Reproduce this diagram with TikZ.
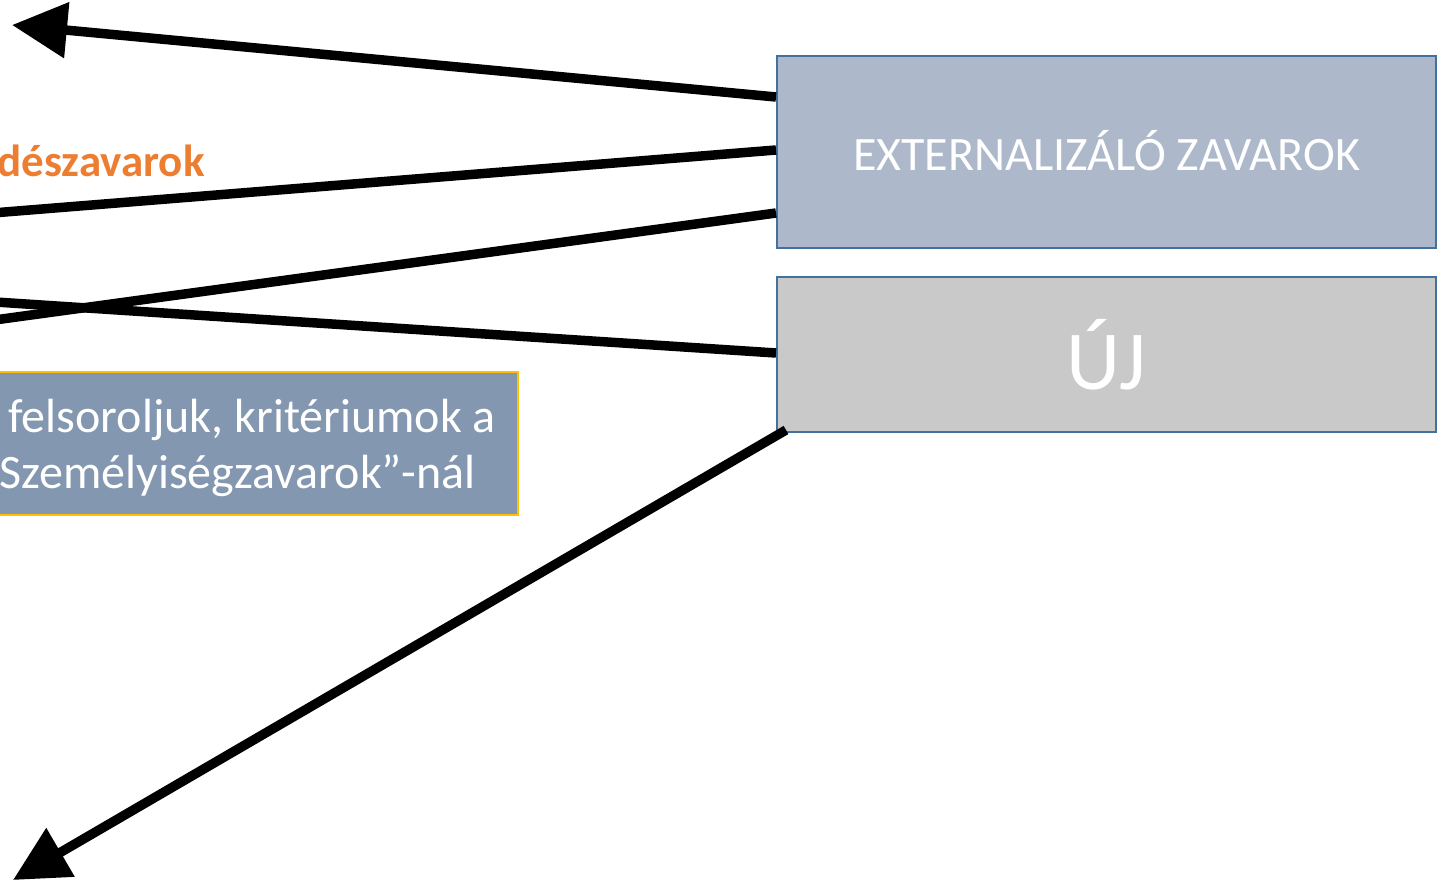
\documentclass[tikz,border=0pt]{standalone}
\usepackage{fontspec}
\setmainfont{Carlito}
\usetikzlibrary{arrows.meta,calc}
\definecolor{boxblue}{HTML}{ADB9CA}
\definecolor{boxgray}{HTML}{C9C9C9}
\definecolor{edgeblue}{HTML}{41719C}
\definecolor{notefill}{HTML}{8497B0}
\definecolor{notegold}{HTML}{FFC000}
\definecolor{orangetxt}{HTML}{ED7D31}
\begin{document}
\begin{tikzpicture}[x=1pt,y=-1pt,
  catbox/.style={draw=edgeblue,line width=2pt,inner sep=0pt,anchor=north west,
    minimum width=659pt,text=white},
  conn/.style={line width=9.5pt,black},
  tipconn/.style={conn,-{Triangle[length=55pt,width=54pt]}},
  whitetxt/.style={text=white,inner sep=0pt,font=\fontsize{48}{57}\selectfont}]
\useasboundingbox (0,0) rectangle (1442,883);
\clip (0,0) rectangle (1442,883);
% boxes
\node[catbox,fill=boxblue,minimum height=192pt,font=\fontsize{48}{57}\selectfont] (ext) at (776,55) {\raisebox{3pt}{EXTERNALIZÁLÓ ZAVAROK}};
\node[catbox,fill=boxgray,minimum height=155pt,font=\fontsize{84}{96}\selectfont] (uj) at (776,276) {ÚJ};
\draw[draw=notegold,fill=notefill,line width=2pt] (-300,372) rectangle (518,515);
\node[inner sep=0pt,anchor=north west,minimum width=818pt,minimum height=143pt] (note) at (-300,372) {};
\node[whitetxt,anchor=base east] (noteA) at (496,432) {felsoroljuk, kritériumok a};
\node[whitetxt,anchor=base east] (noteB) at (476,488) {Személyiségzavarok”-nál};
\node[inner sep=0pt,anchor=base east,text=orangetxt,font=\fontsize{45}{53}\selectfont\bfseries] (orange) at (205,176) {dészavarok};
% free ends
\coordinate (endA) at (12,25);
\coordinate (endB) at (-20,214);
\coordinate (endC) at (-20,322);
\coordinate (endD) at (-20,301);
\coordinate (endE) at (13,880);
% connectors
\draw[tipconn] ($(ext.north west)+(0,42)$) -- (endA);
\draw[conn] ($(ext.north west)+(0,95)$) -- (endB);
\draw[conn] ($(ext.north west)+(0,158)$) -- (endC);
\draw[conn] ($(uj.north west)+(0,77)$) -- (endD);
\draw[tipconn] ($(uj.south west)+(10,-3)$) -- (endE);
\end{tikzpicture}
\end{document}
